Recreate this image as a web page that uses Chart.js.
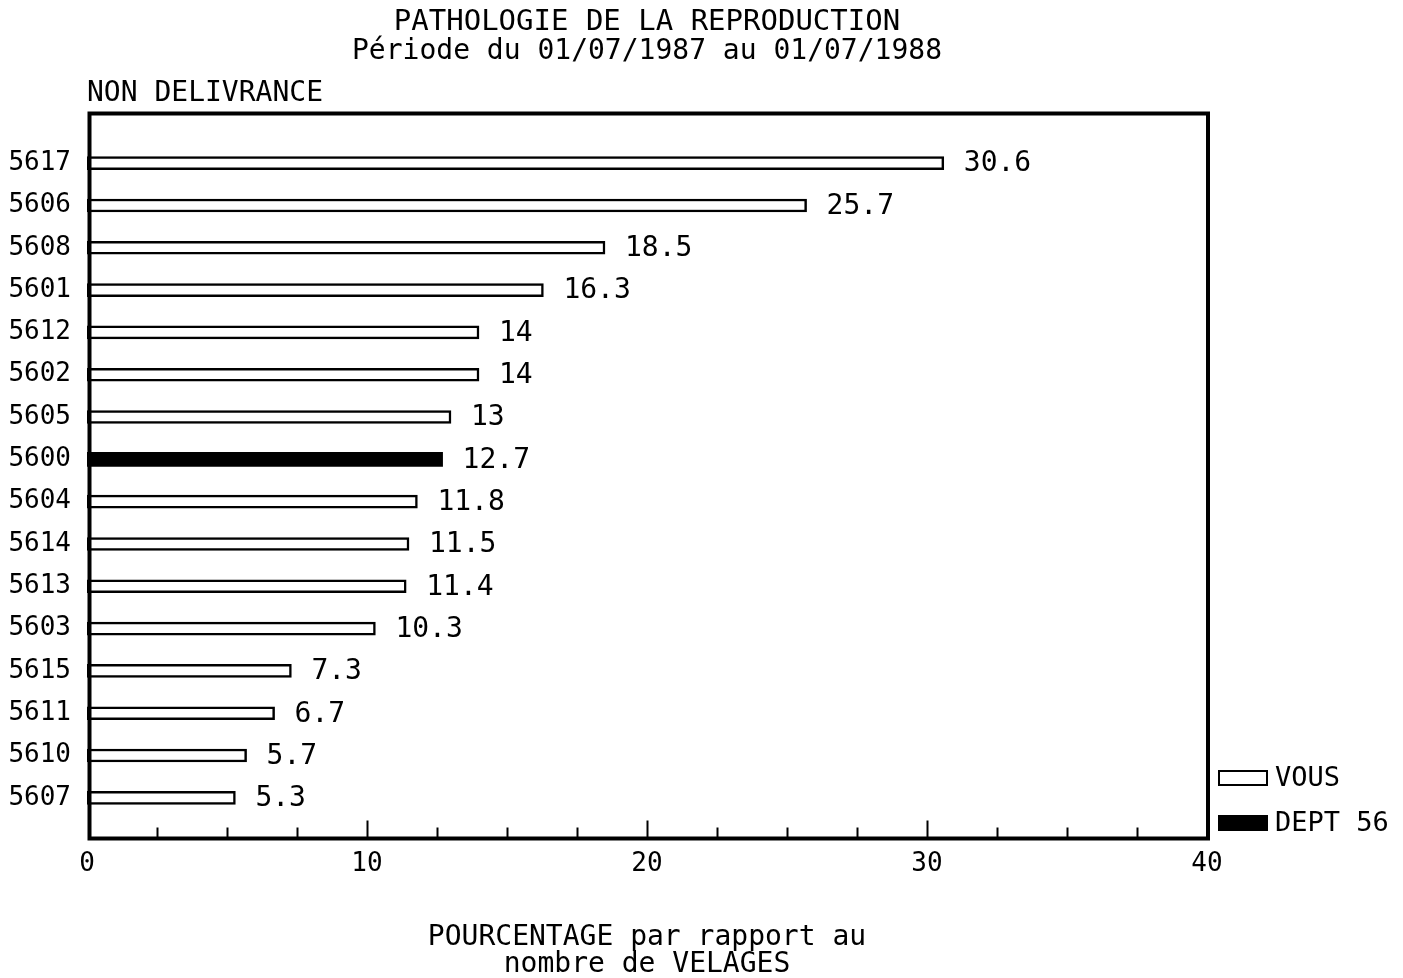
<!DOCTYPE html>
<html>
<head>
<meta charset="utf-8">
<script src="https://cdn.jsdelivr.net/npm/chart.js@4"></script>
<style>
  body { margin: 0; background: #fff; }
  #wrap { width: 1403px; height: 978px; }
</style>
</head>
<body>
<div id="wrap"><canvas id="chart" width="1403" height="978"></canvas></div>
<script>
// chart values
const codes = ['5617', '5606', '5608', '5601', '5612', '5602', '5605', '5600',
               '5604', '5614', '5613', '5603', '5615', '5611', '5610', '5607'];
const values = [30.6, 25.7, 18.5, 16.3, 14, 14, 13, 12.7,
                11.8, 11.5, 11.4, 10.3, 7.3, 6.7, 5.7, 5.3];
const deptCode = '5600';
const xTicks = [0, 10, 20, 30, 40];
const seriesNames = ['VOUS', 'DEPT 56'];

const FONT = '"DejaVu Sans Mono", "Liberation Mono", monospace';

// split into the two series (the department bar is drawn solid)
const vousData = codes.map((c, i) => c === deptCode ? null : values[i]);
const deptData = codes.map((c, i) => c === deptCode ? values[i] : null);

// frame, inner ticks, value labels, titles and legend
const plotterDecor = {
    id: 'plotterDecor',
    afterDatasetsDraw(chart) {
        const ctx = chart.ctx;
        const ca = chart.chartArea;
        const xs = chart.scales.x;
        const frameTop = ca.top - 28.5;
        const frameBottom = ca.bottom + 19.5;

        ctx.save();
        ctx.strokeStyle = '#000';
        ctx.lineWidth = 4;
        ctx.strokeRect(ca.left + 2.5, frameTop, ca.right - ca.left - 1.5, frameBottom - frameTop);

        // tick marks every 2.5, pointing up from the bottom edge
        ctx.lineWidth = 2;
        for (let v = 2.5; v < 40; v += 2.5) {
            const x = Math.round(xs.getPixelForValue(v)) + 0.5;
            const len = v % 10 === 0 ? 18 : 11;
            ctx.beginPath();
            ctx.moveTo(x, frameBottom);
            ctx.lineTo(x, frameBottom - len);
            ctx.stroke();
        }

        // value next to each bar
        ctx.fillStyle = '#000';
        ctx.font = '28px ' + FONT;
        ctx.textAlign = 'left';
        ctx.textBaseline = 'middle';
        chart.data.datasets.forEach((ds, di) => {
            chart.getDatasetMeta(di).data.forEach((bar, i) => {
                if (ds.data[i] == null) return;
                ctx.fillText(String(ds.data[i]), bar.x + 20, bar.y + 1);
            });
        });

        // titles
        const cx = (ca.left + ca.right) / 2;
        ctx.textAlign = 'center';
        ctx.font = '29px ' + FONT;
        ctx.fillText('PATHOLOGIE DE LA REPRODUCTION', cx, 22);
        ctx.font = '28px ' + FONT;
        ctx.fillText('Période du 01/07/1987 au 01/07/1988', cx, 52);
        ctx.textAlign = 'left';
        ctx.fillText('NON DELIVRANCE', ca.left, 94);

        // legend to the right of the frame
        const lx = ca.right + 11;
        const items = [
            { y: 778, ds: chart.data.datasets[0] },
            { y: 823, ds: chart.data.datasets[1] }
        ];
        ctx.font = '27px ' + FONT;
        items.forEach(it => {
            ctx.fillStyle = it.ds.backgroundColor;
            ctx.fillRect(lx, it.y - 8, 50, 16);
            ctx.lineWidth = 2;
            ctx.strokeStyle = '#000';
            ctx.strokeRect(lx + 1, it.y - 7, 48, 14);
            ctx.fillStyle = '#000';
            ctx.fillText(it.ds.label, lx + 57, it.y + 1);
        });
        ctx.restore();
    }
};

new Chart(document.getElementById('chart'), {
    type: 'bar',
    data: {
        labels: codes,
        datasets: [{
            label: seriesNames[0],
            data: vousData,
            backgroundColor: '#fff',
            borderColor: '#000',
            borderWidth: 2.5,
            borderSkipped: false,
            barThickness: 13
        }, {
            label: seriesNames[1],
            data: deptData,
            backgroundColor: '#000',
            borderColor: '#000',
            borderWidth: 0,
            borderSkipped: false,
            barThickness: 14
        }]
    },
    options: {
        indexAxis: 'y',
        responsive: false,
        animation: false,
        grouped: false,
        layout: { padding: { top: 142, left: 0, right: 196, bottom: 0 } },
        plugins: {
            legend: { display: false },
            tooltip: { enabled: false }
        },
        scales: {
            x: {
                type: 'linear',
                min: 0,
                max: 40,
                afterBuildTicks: s => { s.ticks = xTicks.map(v => ({ value: v })); },
                afterFit: s => { s.height = 159; },
                grid: { display: false, drawTicks: false },
                border: { display: false },
                ticks: { color: '#000', padding: 30, font: { family: FONT, size: 26 } },
                title: {
                    display: true,
                    text: ['POURCENTAGE par rapport au', 'nombre de VELAGES'],
                    color: '#000',
                    font: { family: FONT, size: 28, lineHeight: '27px' },
                    padding: { top: 0, bottom: 0 }
                }
            },
            y: {
                type: 'category',
                afterFit: s => { s.width = 87; },
                grid: { display: false, drawTicks: false },
                border: { display: false },
                ticks: { color: '#000', padding: 16, font: { family: FONT, size: 26 } }
            }
        }
    },
    plugins: [plotterDecor]
});
</script>
</body>
</html>
